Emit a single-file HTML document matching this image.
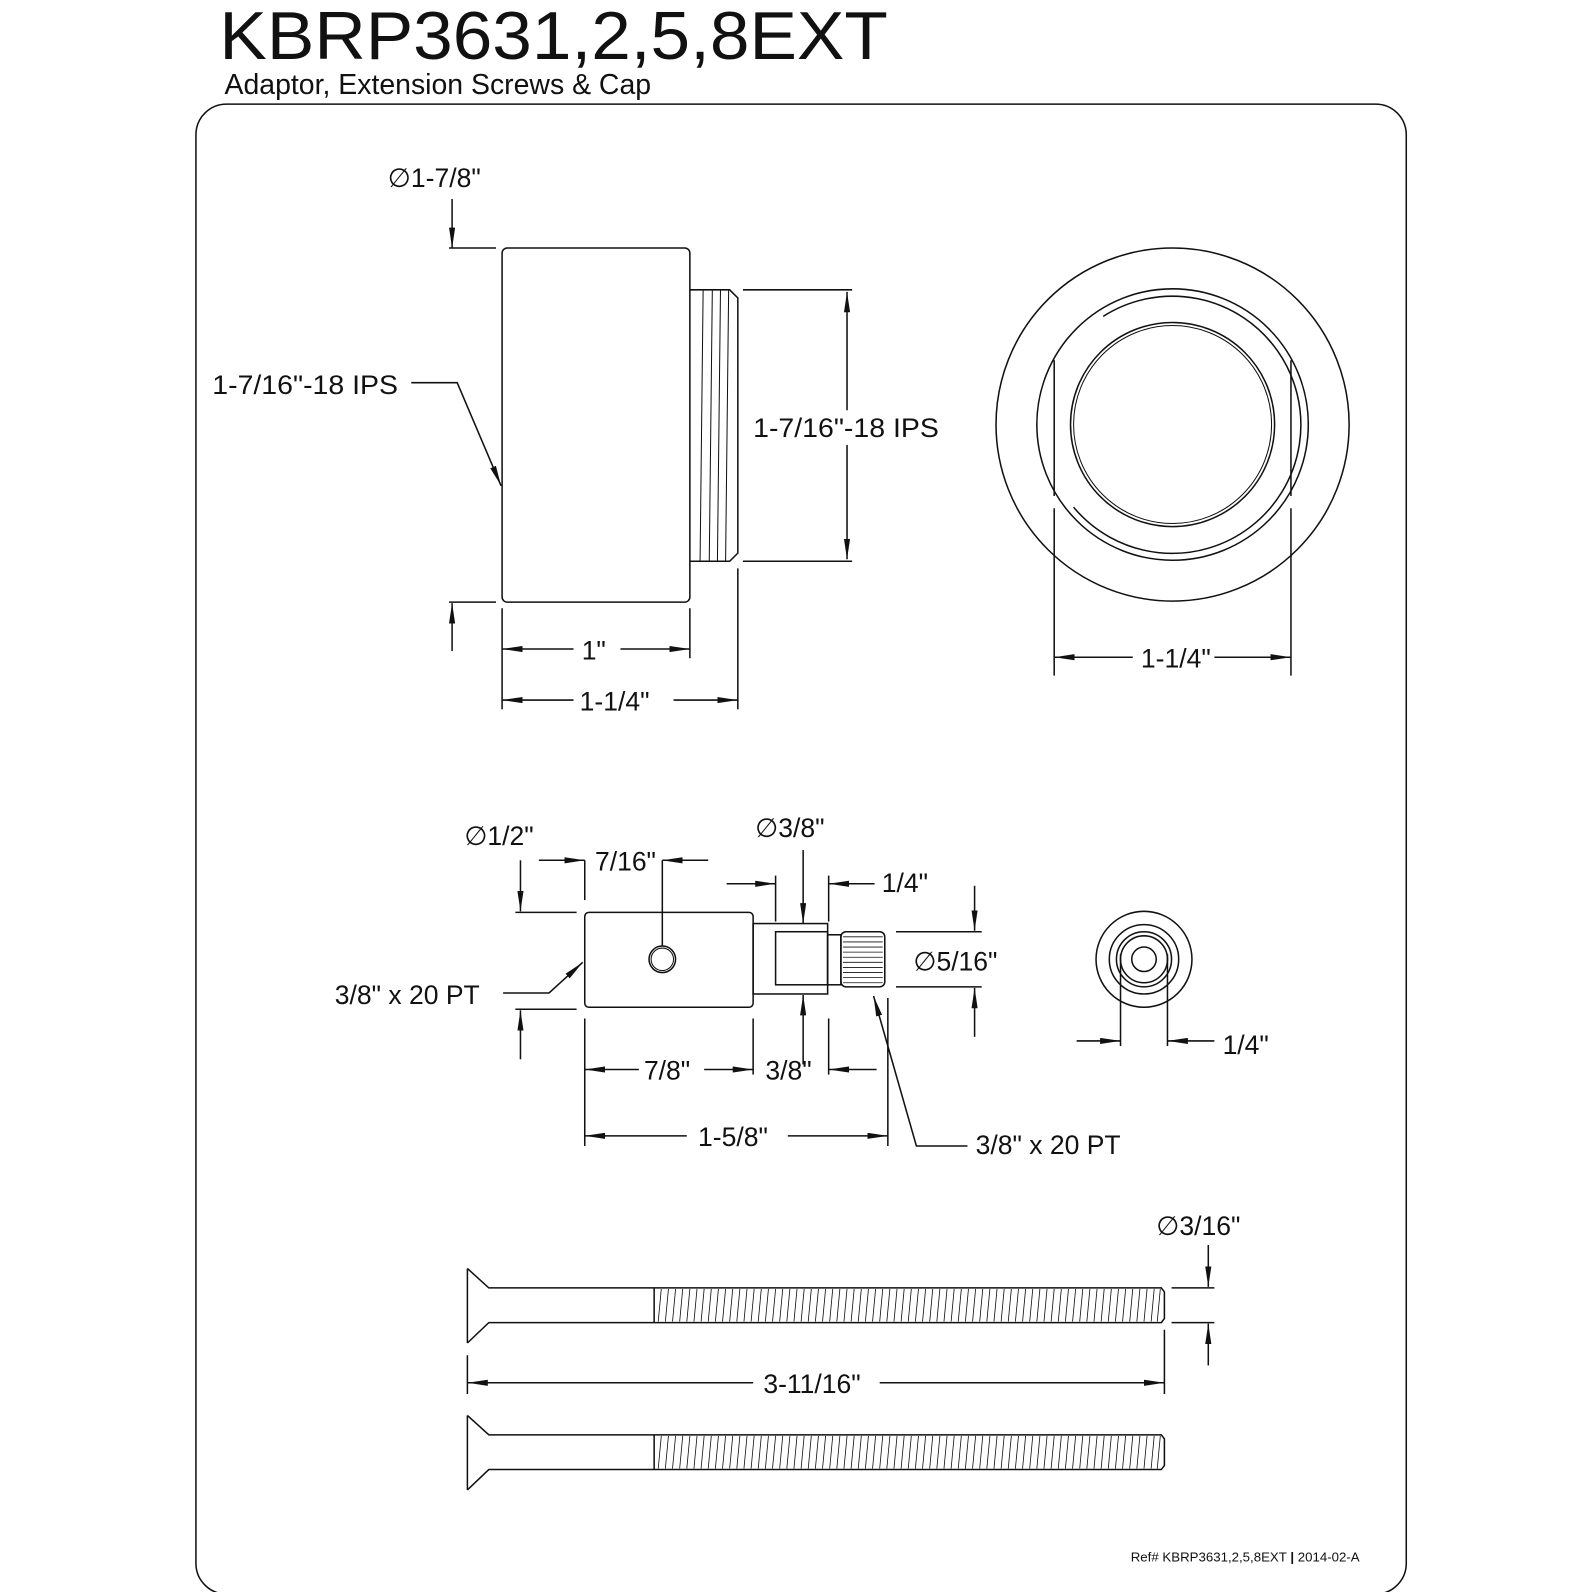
<!DOCTYPE html>
<html><head><meta charset="utf-8"><style>
html,body{margin:0;padding:0;background:#fff;}
svg{display:block;}
text{font-family:"Liberation Sans",sans-serif;fill:#111;}
</style></head><body>
<svg width="1592" height="1592" viewBox="0 0 1560 1560" xmlns="http://www.w3.org/2000/svg">
<defs>
<marker id="a" viewBox="0 0 20 6" refX="20" refY="3" markerWidth="20" markerHeight="6" markerUnits="userSpaceOnUse" orient="auto-start-reverse"><path d="M0,0 L20,3 L0,6 z" fill="#111"/></marker>
</defs>
<rect width="1560" height="1560" fill="#fff"/>
<g stroke="#111" stroke-width="1.5" fill="none">
<rect x="192" y="102" width="1186" height="1460" rx="30"/>

<!-- adaptor side view -->
<rect x="492" y="243" width="184" height="347" rx="5"/>
<polyline points="676,284 715,284 723,292 723,542 715,550 676,550"/>
<g stroke-width="1">
<line x1="689" y1="284" x2="686" y2="550"/>
<line x1="698" y1="284" x2="695" y2="550"/>
<line x1="706" y1="284" x2="703" y2="550"/>
<line x1="714" y1="284" x2="711" y2="550"/>
</g>
<line x1="440" y1="243" x2="486" y2="243"/>
<line x1="443" y1="195" x2="443" y2="243" marker-end="url(#a)"/>
<line x1="440" y1="590" x2="486" y2="590"/>
<line x1="443" y1="638" x2="443" y2="591" marker-end="url(#a)"/>
<polyline points="403,375 448,375 491,476" marker-end="url(#a)"/>
<line x1="728" y1="284" x2="835" y2="284"/>
<line x1="728" y1="550" x2="835" y2="550"/>
<line x1="830" y1="286" x2="830" y2="548" marker-start="url(#a)" marker-end="url(#a)"/>
<line x1="492" y1="596" x2="492" y2="695"/>
<line x1="676" y1="596" x2="676" y2="645"/>
<line x1="723" y1="557" x2="723" y2="695"/>
<line x1="492" y1="636" x2="562" y2="636" marker-start="url(#a)"/>
<line x1="608" y1="636" x2="676" y2="636" marker-end="url(#a)"/>
<line x1="492" y1="686" x2="562" y2="686" marker-start="url(#a)"/>
<line x1="660" y1="686" x2="723" y2="686" marker-end="url(#a)"/>

<!-- front view -->
<circle cx="1149" cy="416" r="173"/>
<circle cx="1149" cy="416" r="133"/>
<path d="M1081,310 A126,126 0 1 1 1052,497"/>
<circle cx="1149" cy="416" r="100"/>
<circle cx="1149" cy="416" r="97" stroke-width="1"/>
<line x1="1033" y1="353" x2="1033" y2="486"/>
<line x1="1033" y1="498" x2="1033" y2="662"/>
<line x1="1265" y1="353" x2="1265" y2="486"/>
<line x1="1265" y1="498" x2="1265" y2="662"/>
<line x1="1033" y1="644" x2="1110" y2="644" marker-start="url(#a)"/>
<line x1="1190" y1="644" x2="1265" y2="644" marker-end="url(#a)"/>

<!-- extension piece -->
<rect x="573" y="894" width="165" height="93" rx="4"/>
<circle cx="649" cy="940" r="13"/>
<circle cx="649" cy="940" r="11" stroke-width="1"/>
<rect x="738" y="905" width="73" height="69"/>
<rect x="760" y="913" width="51" height="52"/>
<rect x="811" y="916" width="13" height="49"/>
<rect x="824" y="913" width="43" height="54" rx="5"/>
<g stroke-width="0.8"><path d="M826 918H865M826 923H865M826 928H865M826 933H865M826 938H865M826 943H865M826 948H865M826 953H865M826 958H865M826 963H865"/></g>
<line x1="505" y1="894" x2="565" y2="894"/>
<line x1="505" y1="989" x2="565" y2="989"/>
<line x1="510" y1="843" x2="510" y2="893" marker-end="url(#a)"/>
<line x1="510" y1="1038" x2="510" y2="990" marker-end="url(#a)"/>
<line x1="573" y1="843" x2="573" y2="882"/>
<line x1="649" y1="843" x2="649" y2="927"/>
<line x1="528" y1="843" x2="573" y2="843" marker-end="url(#a)"/>
<line x1="694" y1="843" x2="649" y2="843" marker-end="url(#a)"/>
<polyline points="493,973 538,973 571,943" marker-end="url(#a)"/>
<line x1="787" y1="833" x2="787" y2="905" marker-end="url(#a)"/>
<line x1="787" y1="1043" x2="787" y2="975" marker-end="url(#a)"/>
<line x1="760" y1="858" x2="760" y2="903"/>
<line x1="812" y1="858" x2="812" y2="903"/>
<line x1="712" y1="866" x2="760" y2="866" marker-end="url(#a)"/>
<line x1="857" y1="866" x2="812" y2="866" marker-end="url(#a)"/>
<line x1="878" y1="913" x2="962" y2="913"/>
<line x1="878" y1="967" x2="962" y2="967"/>
<line x1="955" y1="868" x2="955" y2="912" marker-end="url(#a)"/>
<line x1="955" y1="1016" x2="955" y2="968" marker-end="url(#a)"/>
<line x1="573" y1="998" x2="573" y2="1123"/>
<line x1="738" y1="998" x2="738" y2="1053"/>
<line x1="812" y1="998" x2="812" y2="1053"/>
<line x1="870" y1="978" x2="870" y2="1123"/>
<line x1="573" y1="1048" x2="626" y2="1048" marker-start="url(#a)"/>
<line x1="690" y1="1048" x2="738" y2="1048" marker-end="url(#a)"/>
<line x1="859" y1="1048" x2="812" y2="1048" marker-end="url(#a)"/>
<line x1="573" y1="1113" x2="673" y2="1113" marker-start="url(#a)"/>
<line x1="772" y1="1113" x2="870" y2="1113" marker-end="url(#a)"/>
<polyline points="948,1123 898,1123 856,976" marker-end="url(#a)"/>

<!-- cap -->
<circle cx="1121" cy="940" r="47"/>
<circle cx="1121" cy="940" r="34"/>
<circle cx="1121" cy="940" r="27"/>
<circle cx="1121" cy="940" r="23"/>
<circle cx="1121" cy="940" r="12"/>
<line x1="1098" y1="935" x2="1098" y2="1025"/>
<line x1="1144" y1="935" x2="1144" y2="1025"/>
<line x1="1055" y1="1020" x2="1098" y2="1020" marker-end="url(#a)"/>
<line x1="1190" y1="1020" x2="1144" y2="1020" marker-end="url(#a)"/>

<!-- screws -->
<g id="s">
<line x1="458" y1="1243" x2="458" y2="1316"/>
<polyline points="458,1243 479,1262 1138,1262 1141,1266 1141,1292 1138,1296 479,1296 458,1316"/>
<line x1="641" y1="1262" x2="641" y2="1296"/>
<g stroke-width="0.8"><path d="M648 1263L645 1295M655 1263L652 1295M662 1263L659 1295M669 1263L666 1295M676 1263L673 1295M683 1263L680 1295M690 1263L687 1295M697 1263L694 1295M704 1263L701 1295M711 1263L708 1295M718 1263L715 1295M725 1263L722 1295M732 1263L729 1295M739 1263L736 1295M746 1263L743 1295M753 1263L750 1295M760 1263L757 1295M767 1263L764 1295M774 1263L771 1295M781 1263L778 1295M788 1263L785 1295M795 1263L792 1295M802 1263L799 1295M809 1263L806 1295M816 1263L813 1295M823 1263L820 1295M830 1263L827 1295M837 1263L834 1295M844 1263L841 1295M851 1263L848 1295M858 1263L855 1295M865 1263L862 1295M872 1263L869 1295M879 1263L876 1295M886 1263L883 1295M893 1263L890 1295M900 1263L897 1295M907 1263L904 1295M914 1263L911 1295M921 1263L918 1295M928 1263L925 1295M935 1263L932 1295M942 1263L939 1295M949 1263L946 1295M956 1263L953 1295M963 1263L960 1295M970 1263L967 1295M977 1263L974 1295M984 1263L981 1295M991 1263L988 1295M998 1263L995 1295M1005 1263L1002 1295M1012 1263L1009 1295M1019 1263L1016 1295M1026 1263L1023 1295M1033 1263L1030 1295M1040 1263L1037 1295M1047 1263L1044 1295M1054 1263L1051 1295M1061 1263L1058 1295M1068 1263L1065 1295M1075 1263L1072 1295M1082 1263L1079 1295M1089 1263L1086 1295M1096 1263L1093 1295M1103 1263L1100 1295M1110 1263L1107 1295M1117 1263L1114 1295M1124 1263L1121 1295M1131 1263L1128 1295M1137 1263L1134 1295"/></g>
</g>
<use href="#s" transform="translate(0,144)"/>
<line x1="1148" y1="1262" x2="1190" y2="1262"/>
<line x1="1148" y1="1296" x2="1190" y2="1296"/>
<line x1="1184" y1="1220" x2="1184" y2="1261" marker-end="url(#a)"/>
<line x1="1184" y1="1338" x2="1184" y2="1297" marker-end="url(#a)"/>
<line x1="458" y1="1328" x2="458" y2="1366"/>
<line x1="1141" y1="1303" x2="1141" y2="1366"/>
<line x1="458" y1="1355" x2="738" y2="1355" marker-start="url(#a)"/>
<line x1="862" y1="1355" x2="1141" y2="1355" marker-end="url(#a)"/>
</g>

<text x="215" y="58" font-size="66" textLength="655" lengthAdjust="spacingAndGlyphs">KBRP3631,2,5,8EXT</text>
<text x="220" y="92" font-size="28" textLength="418" lengthAdjust="spacingAndGlyphs">Adaptor, Extension Screws &amp; Cap</text>
<rect x="736" y="402" width="184" height="34" fill="#fff"/>
<g font-size="26">
<text x="380" y="183">∅1-7/8"</text>
<text x="208" y="386" textLength="182" lengthAdjust="spacingAndGlyphs">1-7/16"-18 IPS</text>
<text x="738" y="428" textLength="182" lengthAdjust="spacingAndGlyphs">1-7/16"-18 IPS</text>
<text x="570" y="646">1"</text>
<text x="568" y="696">1-1/4"</text>
<text x="1118" y="654">1-1/4"</text>
<text x="455" y="828">∅1/2"</text>
<text x="583" y="853">7/16"</text>
<text x="740" y="820">∅3/8"</text>
<text x="864" y="874">1/4"</text>
<text x="895" y="951">∅5/16"</text>
<text x="328" y="984">3/8" x 20 PT</text>
<text x="631" y="1058">7/8"</text>
<text x="750" y="1058">3/8"</text>
<text x="684" y="1123">1-5/8"</text>
<text x="956" y="1131">3/8" x 20 PT</text>
<text x="1198" y="1033">1/4"</text>
<text x="1133" y="1210">∅3/16"</text>
<text x="748" y="1365">3-11/16"</text>
</g>
<text x="1108" y="1530" font-size="13">Ref# KBRP3631,2,5,8EXT <tspan font-weight="bold">|</tspan> 2014-02-A</text>
</svg>
</body></html>
